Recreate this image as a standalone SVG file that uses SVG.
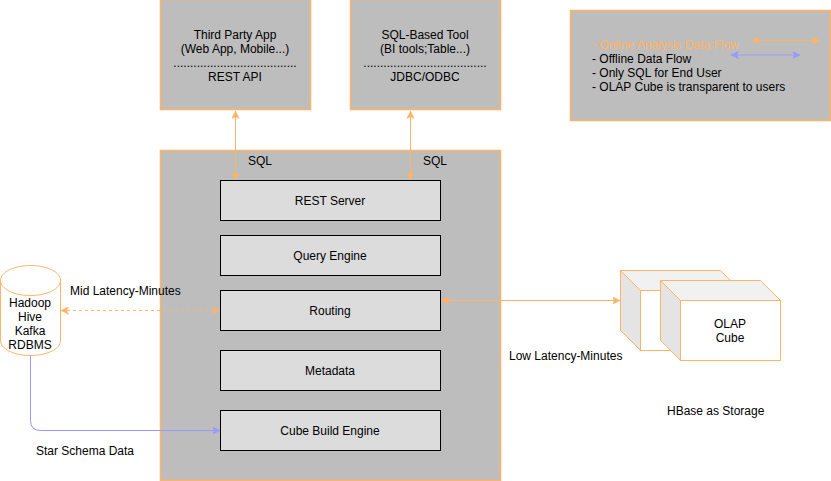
<svg xmlns="http://www.w3.org/2000/svg" width="831" height="481" viewBox="0 0 831 481">
<style>
text{font-family:"Liberation Sans",Arial,Helvetica,sans-serif;font-size:12px;fill:#000}
.m{text-anchor:middle}
.box{fill:#bdbdbd;stroke:#ffb366;stroke-width:1.5}
.in{fill:#dcdcdc;stroke:#000;stroke-width:1}
.o{stroke:#ffb366;fill:none;stroke-width:1}
.p{stroke:#9999ff;fill:none;stroke-width:1}
.cube{stroke:#ffb366;stroke-width:1}
</style>
<defs>
<marker id="ao" viewBox="0 0 8 8" refX="7.5" refY="4" markerWidth="8" markerHeight="8" markerUnits="userSpaceOnUse" orient="auto-start-reverse"><path d="M0 0.3L7.500 4L0 7.700L1.800 4Z" fill="#ffb366" stroke="#ffb366" stroke-width="0.5"/></marker>
<marker id="ap" viewBox="0 0 8 8" refX="7.5" refY="4" markerWidth="8" markerHeight="8" markerUnits="userSpaceOnUse" orient="auto-start-reverse"><path d="M0 0.3L7.500 4L0 7.700L1.800 4Z" fill="#9999ff" stroke="#9999ff" stroke-width="0.5"/></marker>
</defs>
<g id="main"><rect class="box" x="160.500" y="150.500" width="340" height="330"/></g>
<g id="third-party">
<rect class="box" x="160.500" y="-0.500" width="150" height="110"/>
<text class="m" x="235" y="39">Third Party App</text>
<text class="m" x="235" y="53">(Web App, Mobile...)</text>
<text class="m" x="235" y="67">.....................................</text>
<text class="m" x="235" y="81">REST API</text>
</g>
<g id="sql-tool">
<rect class="box" x="350.500" y="-0.500" width="150" height="110"/>
<text class="m" x="425" y="39">SQL-Based Tool</text>
<text class="m" x="425" y="53">(BI tools;Table...)</text>
<text class="m" x="425" y="67">.....................................</text>
<text class="m" x="425" y="81">JDBC/ODBC</text>
</g>
<g id="legend">
<rect class="box" x="570.500" y="10.500" width="260" height="110"/>
<text x="592" y="49" style="fill:#ffb366">- Online Analysis Data Flow</text>
<text x="592" y="63">- Offline Data Flow</text>
<text x="592" y="77">- Only SQL for End User</text>
<text x="592" y="91">- OLAP Cube is transparent to users</text>
</g>
<g id="rest-server"><rect class="in" x="220.500" y="180.500" width="220" height="40"/><text class="m" x="330" y="205">REST Server</text></g>
<g id="query-engine"><rect class="in" x="220.500" y="235.500" width="220" height="40"/><text class="m" x="330" y="260">Query Engine</text></g>
<g id="routing"><rect class="in" x="220.500" y="290.500" width="220" height="40"/><text class="m" x="330" y="315">Routing</text></g>
<g id="metadata"><rect class="in" x="220.500" y="350.500" width="220" height="40"/><text class="m" x="330" y="375">Metadata</text></g>
<g id="cube-build"><rect class="in" x="220.500" y="410.500" width="220" height="40"/><text class="m" x="330" y="435">Cube Build Engine</text></g>
<g id="sources">
<path d="M0.500 280.500C0.500 272 14 265.500 30.500 265.500C47 265.500 60.500 272 60.500 280.500V340.500C60.500 349 47 355.500 30.500 355.500C14 355.500 0.500 349 0.500 340.500Z" fill="#fff" stroke="#ffb366"/>
<path d="M0.500 280.500C0.500 289 14 295.500 30.500 295.500C47 295.500 60.500 289 60.500 280.500" fill="none" stroke="#ffb366"/>
<text class="m" x="30" y="307">Hadoop</text>
<text class="m" x="30" y="321">Hive</text>
<text class="m" x="30" y="335">Kafka</text>
<text class="m" x="30" y="349">RDBMS</text>
</g>
<g id="cube-back">
<path class="cube" d="M640.500 290.500H740.500V350.500H640.500Z" fill="#fff"/>
<path class="cube" d="M620.500 270.500H720.500L740.500 290.500H640.500Z" fill="#f1f1f1"/>
<path class="cube" d="M620.500 270.500L640.500 290.500V350.500L620.500 330.500Z" fill="#e4e4e4"/>
</g>
<g id="cube-front">
<path class="cube" d="M680.500 300.500H780.500V360.500H680.500Z" fill="#fff"/>
<path class="cube" d="M660.500 280.500H760.500L780.500 300.500H680.500Z" fill="#f1f1f1"/>
<path class="cube" d="M660.500 280.500L680.500 300.500V360.500L660.500 340.500Z" fill="#e4e4e4"/>
<text class="m" x="730" y="328">OLAP</text>
<text class="m" x="730" y="342">Cube</text>
</g>
<g id="connectors">
<path class="o" d="M235.500 111V180" marker-start="url(#ao)" marker-end="url(#ao)"/>
<path class="o" d="M410.500 111V180" marker-start="url(#ao)" marker-end="url(#ao)"/>
<path class="o" d="M61 310.500H220" stroke-dasharray="3 3" marker-start="url(#ao)" marker-end="url(#ao)"/>
<path class="o" d="M441.500 300.500H620" marker-start="url(#ao)" marker-end="url(#ao)"/>
<path class="p" d="M30.500 355.500V420.500Q30.500 430.500 40.500 430.500H220" marker-end="url(#ap)"/>
<path class="o" d="M752 40.500H820" marker-start="url(#ao)" marker-end="url(#ao)"/>
<path class="p" d="M731 55H800" marker-start="url(#ap)" marker-end="url(#ap)"/>
</g>
<g id="labels">
<text x="248" y="165">SQL</text>
<text x="423" y="165">SQL</text>
<text x="70" y="295">Mid Latency-Minutes</text>
<text x="509" y="360">Low Latency-Minutes</text>
<text x="36" y="455">Star Schema Data</text>
<text x="667" y="415">HBase as Storage</text>
</g>
</svg>
